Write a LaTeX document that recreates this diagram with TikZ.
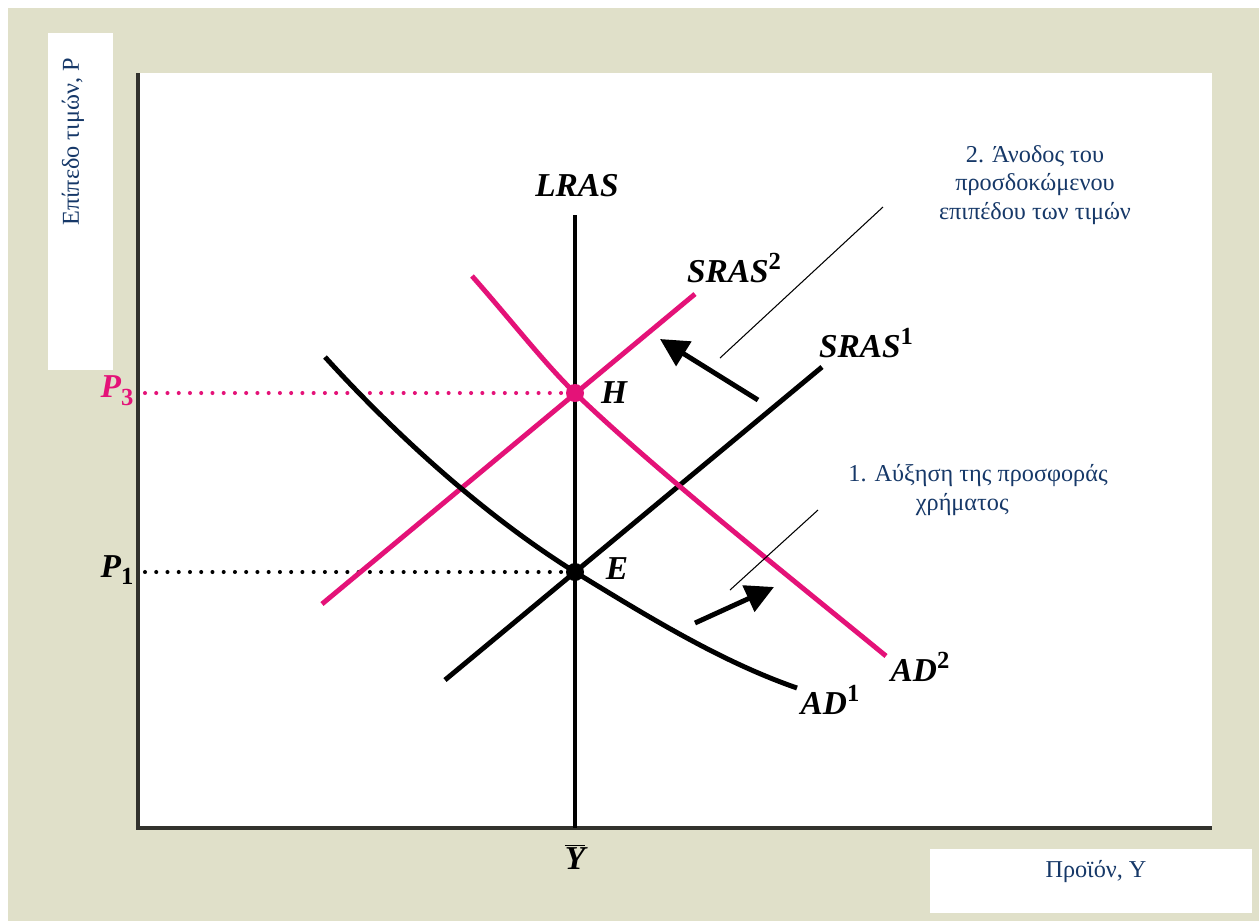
\documentclass[tikz,border=0pt]{standalone}
\usepackage{fontspec}
\setmainfont{Liberation Serif}
\usetikzlibrary{arrows.meta}
\definecolor{bgbeige}{RGB}{224,224,201}
\definecolor{curvepink}{RGB}{228,18,120}
\definecolor{textblue}{RGB}{22,56,104}
\definecolor{axisgray}{RGB}{50,50,45}
\newcommand{\lsup}[1]{\raisebox{0.85ex}{\fontsize{14}{14}\selectfont\upshape #1}}
\newcommand{\lsub}[1]{\raisebox{-0.5ex}{\fontsize{14}{14}\selectfont\upshape #1}}

\begin{document}
\begin{tikzpicture}[x=0.02cm, y=-0.02cm,
  curve/.style={line width=2.8pt},
  lbl/.style={font=\fontsize{19}{19}\selectfont\bfseries\itshape, inner sep=1pt},
  note/.style={font=\fontsize{13.8}{16}\selectfont, text=textblue, align=center},
  guide/.style={line width=2.3pt, dash pattern=on 0pt off 6.4pt, line cap=round},
  shiftarrow/.style={line width=2.8pt, -{Triangle[length=16pt,width=16pt]}},
  leader/.style={line width=0.6pt}]
\useasboundingbox (0,0) rectangle (1259,921);
% background and panels
\fill[white] (0,0) rectangle (1259,921);
\fill[bgbeige] (8,8) rectangle (1259,921);
\fill[white] (138,73) rectangle (1212,828);
\fill[white] (48,33) rectangle (113,370);
\fill[white] (930,849) rectangle (1252,913);
% axes
\draw[axisgray, line width=2pt] (138,73) -- (138,828) -- (1212,828);
\node[note, rotate=90, anchor=east] (ylab) at (73,52) {Επίπεδο τιμών, P};
\node[note] (xlab) at (1096,872) {Προϊόν, Y};
% price levels
\coordinate (H) at (575,393);
\coordinate (E) at (575,572);
\draw[guide, curvepink] (145,393) -- (H);
\draw[guide] (145,572) -- (E);
\node[lbl, text=curvepink] (p3) at (117,391) {P\lsub{3}};
\node[lbl] (p1) at (117,570) {P\lsub{1}};
% long run
\draw[line width=2.4pt] (575,215) coordinate (lrtop) -- (575,828);
\node[lbl] (lras) at (577,186) {LRAS};
\node[lbl] (ybar) at (575,857) {$\overline{\mbox{\bfseries\itshape Y}}$};
% short run supply
\draw[curve] (445,680) coordinate (s1a) -- (822,367) coordinate (s1b);
\draw[curve, curvepink] (322,604) coordinate (s2a) -- (695,294) coordinate (s2b);
\node[lbl] (sras1) at (866,343) {SRAS\lsup{1}};
\node[lbl] (sras2) at (734,268) {SRAS\lsup{2}};
% demand
\draw[curve] (325,357) .. controls (408,448) and (495,522) .. (E)
  .. controls (650,618) and (722,662) .. (797,688);
\draw[curve, curvepink] (472,276) .. controls (510,319) and (545,364) .. (H)
  .. controls (655,470) and (786,574) .. (886,656);
\node[lbl] (ad1) at (830,700) {AD\lsup{1}};
\node[lbl] (ad2) at (920,667) {AD\lsup{2}};
% equilibria
\fill[curvepink] (H) circle (9);
\fill (E) circle (9);
\node[lbl] (hlab) at (614,393) {H};
\node[lbl] (elab) at (617,569) {E};
% shifts
\coordinate (a1s) at (695,623);
\coordinate (a1e) at (774,587);
\coordinate (a2s) at (758,400);
\coordinate (a2e) at (660,339);
\draw[shiftarrow] (a1s) -- (a1e);
\draw[shiftarrow] (a2s) -- (a2e);
% notes
\node[note] (note2) at (1035,185) {2. Άνοδος του\\προσδοκώμενου\\επιπέδου των τιμών};
\node[note] (note1) at (978,490) {1. Αύξηση της προσφοράς\\\hspace*{-1.3em}χρήματος};
\draw[leader] (720,358) -- (883,207);
\draw[leader] (730,590) -- (818,510);
\end{tikzpicture}
\end{document}
